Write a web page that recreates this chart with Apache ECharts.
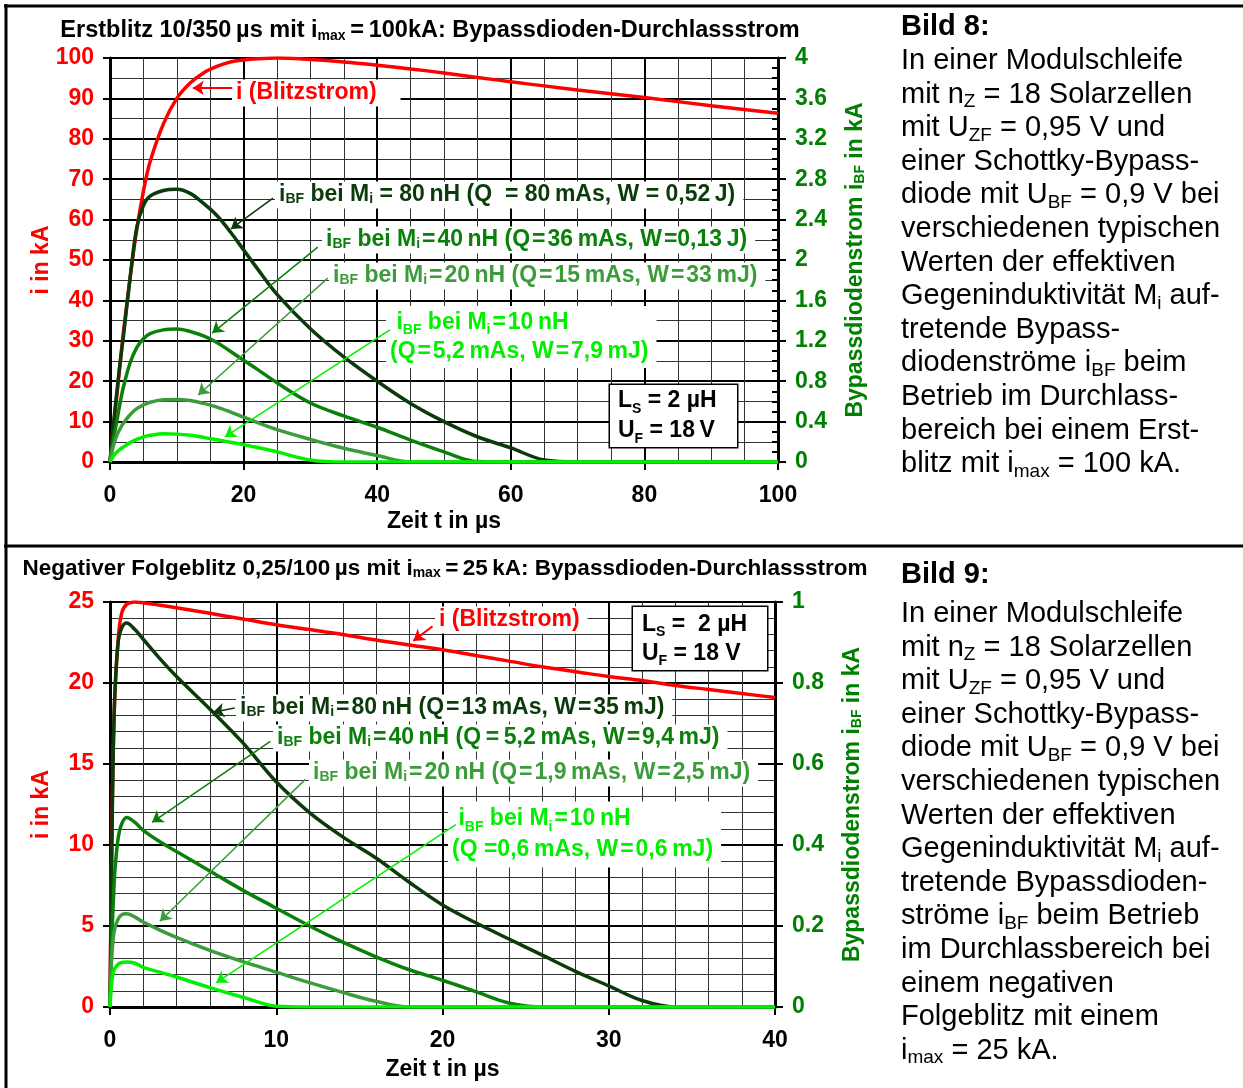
<!DOCTYPE html>
<html>
<head>
<meta charset="utf-8">
<title>Bypassdioden-Durchlassstrom</title>
<script src="https://cdn.jsdelivr.net/npm/echarts@6/dist/echarts.min.js"></script>
<style>
  html, body { margin: 0; padding: 0; background: #fff; }
  #chart { width: 1243px; height: 1088px; }
</style>
</head>
<body>
<div id="chart"></div>
<script>
const FONT = "'Liberation Sans', Arial, Helvetica, sans-serif";
const TS = '\u2009'; // thin space
const HS = '\u200A'; // hair space

// Bild 8: Erstblitz 10/350 µs, Zeit in µs
const timeFirst = [0, 0.5, 1, 1.5, 2, 3, 4, 5, 6, 8, 10, 12, 14, 16, 18, 20, 22, 25, 30, 35, 40, 45, 50, 55, 60, 65, 70, 80, 90, 100];
// Blitzstrom i in kA (linke Achse)
const strokeFirst = [0, 8.5, 16, 24, 32, 45.5, 57.5, 67, 74.3, 83.7, 90, 93.8, 96.3, 97.9, 99, 99.5, 99.8, 100, 99.6, 99.0, 98.2, 97.3, 96.3, 95.2, 94.1, 93.1, 92.1, 90.2, 88.2, 86.3];
// Bypassdiodenstrom iBF in kA (rechte Achse)
const diode80First = [0, 0.36, 0.68, 0.98, 1.24, 1.82, 2.32, 2.54, 2.632, 2.688, 2.70, 2.66, 2.56, 2.44, 2.28, 2.10, 1.92, 1.66, 1.32, 1.04, 0.80, 0.58, 0.40, 0.25, 0.14, 0.02, 0, 0, 0, 0];
const diode40First = [0, 0.22, 0.40, 0.58, 0.74, 0.98, 1.132, 1.22, 1.272, 1.308, 1.316, 1.292, 1.248, 1.184, 1.096, 1.008, 0.92, 0.784, 0.584, 0.456, 0.344, 0.216, 0.10, 0.004, 0, 0, 0, 0, 0, 0];
const diode20First = [0, 0.16, 0.26, 0.328, 0.384, 0.468, 0.528, 0.564, 0.592, 0.616, 0.62, 0.608, 0.58, 0.544, 0.496, 0.444, 0.392, 0.32, 0.224, 0.136, 0.064, 0, 0, 0, 0, 0, 0, 0, 0, 0];
const diode10First = [0, 0.06, 0.096, 0.124, 0.148, 0.192, 0.224, 0.248, 0.264, 0.28, 0.276, 0.264, 0.244, 0.22, 0.196, 0.172, 0.144, 0.10, 0.02, 0, 0, 0, 0, 0, 0, 0, 0, 0, 0, 0];

// Bild 9: negativer Folgeblitz 0,25/100 µs
const timeNext = [0, 0.1, 0.2, 0.3, 0.5, 0.7, 1, 1.5, 2, 3, 4, 6, 8, 10, 12, 14, 16, 18, 20, 22, 24, 26, 28, 30, 32, 34, 36, 38, 40];
const strokeNext = [0, 10, 16, 19.5, 22.8, 24.3, 24.85, 25, 24.95, 24.8, 24.65, 24.3, 23.95, 23.6, 23.3, 23.0, 22.65, 22.35, 22.05, 21.7, 21.35, 21.0, 20.7, 20.4, 20.15, 19.85, 19.6, 19.35, 19.1];
const diode80Next = [0, 0.36, 0.64, 0.78, 0.904, 0.936, 0.948, 0.932, 0.908, 0.86, 0.816, 0.736, 0.652, 0.556, 0.48, 0.42, 0.368, 0.308, 0.252, 0.208, 0.168, 0.128, 0.088, 0.052, 0.016, 0, 0, 0, 0];
const diode40Next = [0, 0.16, 0.26, 0.34, 0.42, 0.452, 0.468, 0.456, 0.436, 0.408, 0.384, 0.336, 0.288, 0.244, 0.20, 0.16, 0.124, 0.092, 0.066, 0.038, 0.01, 0, 0, 0, 0, 0, 0, 0, 0];
const diode20Next = [0, 0.12, 0.172, 0.196, 0.218, 0.228, 0.23, 0.222, 0.21, 0.19, 0.172, 0.14, 0.112, 0.086, 0.06, 0.036, 0.014, 0, 0, 0, 0, 0, 0, 0, 0, 0, 0, 0, 0];
const diode10Next = [0, 0.06, 0.084, 0.096, 0.106, 0.11, 0.111, 0.108, 0.098, 0.086, 0.074, 0.048, 0.024, 0.002, 0, 0, 0, 0, 0, 0, 0, 0, 0, 0, 0, 0, 0, 0, 0];

const RED = '#ff0000';
const C80 = '#0b3a0b';
const C40 = '#0a800a';
const C20 = '#3c9c3c';
const C10 = '#00f000';
const AXIS_GREEN = '#008000';

// main text + subscript styles for rich text
function richStyles(color, size, weight, subSize) {
  const base = { fontFamily: FONT, fontWeight: weight, color: color, fill: color };
  return {
    m: Object.assign({ fontSize: size }, base),
    s: Object.assign({ fontSize: subSize, verticalAlign: 'bottom' }, base)
  };
}

// alternating pieces: normal, subscript, normal, ...
function alt() {
  let out = '';
  for (let k = 0; k < arguments.length; k++) {
    if (arguments[k] === '') continue;
    out += '{' + (k % 2 ? 's' : 'm') + '|' + arguments[k] + '}';
  }
  return out;
}

// narrow "=" and thin space between number and unit, as in the original labels
function tight(s) {
  return s.split(' = ').join(HS + '=' + HS).replace(/(\d) (nH|mAs|mJ|J)/g, '$1' + TS + '$2');
}

function note(x, y, color, text, extra) {
  return {
    type: 'text', x: x, y: y, z: 5, silent: true,
    style: Object.assign({
      text: text, fill: color, fontFamily: FONT, fontWeight: 'bold', fontSize: 23,
      rich: richStyles(color, 23, 'bold', 14),
      align: 'left', verticalAlign: 'middle',
      backgroundColor: '#fff', padding: [2, 8, 2, 4]
    }, extra)
  };
}

function paragraph(x, y, text, size, weight) {
  return {
    type: 'text', x: x, y: y, z: 5, silent: true,
    style: {
      text: text, fill: '#000', fontFamily: FONT, fontWeight: weight, fontSize: size,
      rich: richStyles('#000', size, weight, 19),
      align: 'left', verticalAlign: 'middle', lineHeight: 33.6
    }
  };
}

function rule(x1, y1, x2, y2) {
  return { type: 'line', z: 10, silent: true, shape: { x1: x1, y1: y1, x2: x2, y2: y2 }, style: { stroke: '#000', lineWidth: 3 } };
}

function arrows(list) {
  return {
    silent: true, animation: false, symbol: ['none', 'arrow'], symbolSize: 11,
    label: { show: false }, emphasis: { disabled: true },
    data: list.map(a => [
      { coord: [a[0], a[1]], lineStyle: { color: a[4], width: a[5], type: 'solid' }, itemStyle: { color: a[4] } },
      { coord: [a[2], a[3]], itemStyle: { color: a[4] } }
    ])
  };
}

function curve(name, time, values, color, width, xi, yi, extra) {
  return Object.assign({
    name: name, type: 'line', xAxisIndex: xi, yAxisIndex: yi,
    data: time.map((t, k) => [t, values[k]]),
    showSymbol: false, symbol: 'none', smooth: 0.35,
    lineStyle: { color: color, width: width }, itemStyle: { color: color },
    z: 3, silent: true
  }, extra);
}

const labelFont = { fontFamily: FONT, fontSize: 23, fontWeight: 'bold' };

function xAxis(gi, max, interval, minorSplit, nameGap) {
  return {
    gridIndex: gi, type: 'value', min: 0, max: max, interval: interval,
    name: 'Zeit t in µs', nameLocation: 'middle', nameGap: nameGap,
    nameTextStyle: Object.assign({ color: '#000' }, labelFont),
    axisLine: { onZero: false, lineStyle: { color: '#000', width: 3 } },
    axisTick: { length: 8, lineStyle: { color: '#000', width: 2 } },
    axisLabel: Object.assign({ color: '#000', margin: 22 }, labelFont),
    splitLine: { lineStyle: { color: '#000', width: 2 } },
    minorTick: { show: false, splitNumber: minorSplit },
    minorSplitLine: { show: true, lineStyle: { color: '#333', width: 1 } }
  };
}

function leftAxis(gi, max, interval, minorSplit) {
  return {
    gridIndex: gi, type: 'value', position: 'left', min: 0, max: max, interval: interval,
    name: 'i in kA', nameLocation: 'middle', nameGap: 57, nameRotate: 90, nameMoveOverlap: false,
    nameTextStyle: Object.assign({ color: RED }, labelFont),
    axisLine: { show: true, lineStyle: { color: '#000', width: 3 } },
    axisTick: { show: true, length: 7, lineStyle: { color: '#000', width: 2 } },
    axisLabel: Object.assign({ color: RED, margin: 16 }, labelFont),
    splitLine: { lineStyle: { color: '#000', width: 2 } },
    minorTick: { show: false, splitNumber: minorSplit },
    minorSplitLine: { show: true, lineStyle: { color: '#333', width: 1 } }
  };
}

function rightAxis(gi, max, interval) {
  return {
    gridIndex: gi, type: 'value', position: 'right', min: 0, max: max, interval: interval,
    name: alt('Bypassdiodenstrom i', 'BF', ' in kA'), nameLocation: 'middle', nameGap: 66, nameRotate: 90,
    nameTextStyle: Object.assign({ color: AXIS_GREEN, rich: richStyles(AXIS_GREEN, 23, 'bold', 14) }, labelFont),
    axisLine: { show: true, lineStyle: { color: '#000', width: 3 } },
    axisTick: { show: true, length: 8, lineStyle: { color: '#000', width: 2 } },
    axisLabel: Object.assign({ color: AXIS_GREEN, margin: 17 }, labelFont),
    splitLine: { show: false }
  };
}

// short inside ticks on the right-hand axis
function innerTicks(gi, max, interval) {
  return {
    gridIndex: gi, type: 'value', position: 'right', offset: 0, min: 0, max: max, interval: interval,
    axisLine: { show: false },
    axisTick: { show: true, inside: true, length: 6, lineStyle: { color: '#000', width: 2 } },
    axisLabel: { show: false },
    splitLine: { show: false }
  };
}

const arrowsFirst = [
  // from t, from i, to t, to i (left axis units), colour, width
  [18.3, 92.6, 12.4, 92.6, RED, 2],
  [24.4, 65.3, 18.1, 57.7, C80, 1.5],
  [31.1, 53.2, 15.3, 31.9, C40, 1.5],
  [32.6, 45.5, 13.2, 16.6, C20, 1.5],
  [41.9, 32.7, 17.2, 6.2, C10, 1.5]
];
const arrowsNext = [
  [19.4, 23.5, 18.25, 22.6, RED, 2],
  [7.5, 18.45, 6.2, 18.2, C80, 1.5],
  [9.64, 16.4, 2.53, 11.4, C40, 1.5],
  [11.75, 14.05, 3.0, 5.29, C20, 1.5],
  [20.8, 11.26, 6.39, 1.5, C10, 1.5]
];

const chart = echarts.init(document.getElementById('chart'), null, { renderer: 'canvas' });

const option = {
  animation: false,
  backgroundColor: '#fff',
  grid: [
    { left: 110, top: 58, width: 668, height: 404 },
    { left: 110, top: 602, width: 665, height: 405 }
  ],
  xAxis: [
    xAxis(0, 100, 20, 4, 48),
    xAxis(1, 40, 10, 5, 51)
  ],
  yAxis: [
    leftAxis(0, 100, 10, 2),
    rightAxis(0, 4, 0.4),
    leftAxis(1, 25, 5, 5),
    rightAxis(1, 1, 0.2),
    innerTicks(0, 4, 0.1)
  ],
  series: [
    curve('i (Blitzstrom)', timeFirst, strokeFirst, RED, 3.5, 0, 0, { markLine: arrows(arrowsFirst) }),
    curve('80 nH', timeFirst, diode80First, C80, 3.5, 0, 1),
    curve('40 nH', timeFirst, diode40First, C40, 3.5, 0, 1),
    curve('20 nH', timeFirst, diode20First, C20, 3.5, 0, 1),
    curve('10 nH', timeFirst, diode10First, C10, 3.5, 0, 1),
    curve('i (Blitzstrom)', timeNext, strokeNext, RED, 3.5, 1, 2, { markLine: arrows(arrowsNext) }),
    curve('80 nH', timeNext, diode80Next, C80, 3.5, 1, 3),
    curve('40 nH', timeNext, diode40Next, C40, 3.5, 1, 3),
    curve('20 nH', timeNext, diode20Next, C20, 3.5, 1, 3),
    curve('10 nH', timeNext, diode10Next, C10, 3.5, 1, 3)
  ],
  graphic: [
    rule(4, 6, 1243, 6),
    rule(6, 4, 6, 1088),
    rule(4, 546, 1243, 546),
    // titles
    {
      type: 'text', x: 430, y: 31, z: 5, silent: true,
      style: {
        text: alt('Erstblitz 10/350' + TS + 'µs mit i', 'max', TS + '=' + TS + '100kA: Bypassdioden-Durchlassstrom'),
        fill: '#000', fontFamily: FONT, fontWeight: 'bold', fontSize: 23.5,
        rich: richStyles('#000', 23.5, 'bold', 14), align: 'center', verticalAlign: 'middle'
      }
    },
    {
      type: 'text', x: 445, y: 569, z: 5, silent: true,
      style: {
        text: alt('Negativer Folgeblitz 0,25/100' + TS + 'µs mit i', 'max', TS + '=' + TS + '25' + TS + 'kA: Bypassdioden-Durchlassstrom'),
        fill: '#000', fontFamily: FONT, fontWeight: 'bold', fontSize: 22.5,
        rich: richStyles('#000', 22.5, 'bold', 14), align: 'center', verticalAlign: 'middle'
      }
    },
    // annotations, Bild 8
    note(232, 93, RED, alt('i (Blitzstrom)'), { padding: [2, 24, 2, 4] }),
    note(275, 195, C80, alt('i', 'BF', ' bei M', 'i', ' = 80' + TS + 'nH (Q  = 80' + TS + 'mAs, W = 0,52' + TS + 'J)')),
    note(322, 240, C40, alt('i', 'BF', ' bei M', 'i', tight(' = 40 nH (Q = 36 mAs,') + ' W' + HS + '=' + tight('0,13 J)'))),
    note(329, 276, C20, alt('i', 'BF', ' bei M', 'i', tight(' = 20 nH (Q = 15 mAs, W = 33 mJ)'))),
    note(386, 337, C10, alt(' i', 'BF', ' bei M', 'i', tight(' = 10 nH')) + '\n' + alt(tight('(Q = 5,2 mAs, W = 7,9 mJ)')), { lineHeight: 29 }),
    {
      type: 'text', x: 610, y: 385, z: 5, silent: true,
      style: {
        text: alt('L', 'S', ' = 2 µH') + '\n' + alt('U', 'F', ' = 18' + TS + 'V'),
        fill: '#000', fontFamily: FONT, fontWeight: 'bold', fontSize: 23,
        rich: richStyles('#000', 23, 'bold', 14), align: 'left', verticalAlign: 'top',
        lineHeight: 30, padding: [1, 10, 1, 8], width: 109,
        backgroundColor: '#fff', borderColor: '#000', borderWidth: 1.5
      }
    },
    // annotations, Bild 9
    note(435, 620, RED, alt('i (Blitzstrom)')),
    note(236, 708, C80, alt('i', 'BF', ' bei M', 'i', tight(' = 80 nH (Q = 13 mAs, W = 35 mJ)'))),
    note(273, 738, C40, alt('i', 'BF', ' bei M', 'i', tight(' = 40 nH') + ' (Q' + TS + '=' + TS + '5,2' + TS + 'mAs, ' + tight('W = 9,4 mJ)'))),
    note(309, 773, C20, alt('i', 'BF', ' bei M', 'i', tight(' = 20 nH (Q = 1,9 mAs, W = 2,5 mJ)'))),
    note(448, 834.5, C10, alt(' i', 'BF', ' bei M', 'i', tight(' = 10 nH')) + '\n' + alt('(Q ' + tight('=0,6 mAs, W = 0,6 mJ)')), { lineHeight: 31 }),
    {
      type: 'text', x: 633, y: 607, z: 5, silent: true,
      style: {
        text: alt('L', 'S', ' =  2 µH') + '\n' + alt('U', 'F', ' = 18 V'),
        fill: '#000', fontFamily: FONT, fontWeight: 'bold', fontSize: 23,
        rich: richStyles('#000', 23, 'bold', 14), align: 'left', verticalAlign: 'top',
        lineHeight: 29, padding: [3, 10, 2, 9], width: 115,
        backgroundColor: '#fff', borderColor: '#000', borderWidth: 1.5
      }
    },
    // captions on the right
    paragraph(901, 27, alt('Bild 8:'), 29, 'bold'),
    paragraph(901, 262.6, [
      alt('In einer Modulschleife'),
      alt('mit n', 'Z', ' = 18 Solarzellen'),
      alt('mit U', 'ZF', ' = 0,95 V und'),
      alt('einer Schottky-Bypass-'),
      alt('diode mit U', 'BF', ' = 0,9 V bei'),
      alt('verschiedenen typischen'),
      alt('Werten der effektiven'),
      alt('Gegeninduktivität M', 'i', ' auf-'),
      alt('tretende Bypass-'),
      alt('diodenströme i', 'BF', ' beim'),
      alt('Betrieb im Durchlass-'),
      alt('bereich bei einem Erst-'),
      alt('blitz mit i', 'max', ' = 100 kA.')
    ].join('\n'), 29, 'normal'),
    paragraph(901, 575, alt('Bild 9:'), 29, 'bold'),
    paragraph(901, 832.4, [
      alt('In einer Modulschleife'),
      alt('mit n', 'Z', ' = 18 Solarzellen'),
      alt('mit U', 'ZF', ' = 0,95 V und'),
      alt('einer Schottky-Bypass-'),
      alt('diode mit U', 'BF', ' = 0,9 V bei'),
      alt('verschiedenen typischen'),
      alt('Werten der effektiven'),
      alt('Gegeninduktivität M', 'i', ' auf-'),
      alt('tretende Bypassdioden-'),
      alt('ströme i', 'BF', ' beim Betrieb'),
      alt('im Durchlassbereich bei'),
      alt('einem negativen'),
      alt('Folgeblitz mit einem'),
      alt('i', 'max', ' = 25 kA.')
    ].join('\n'), 29, 'normal')
  ]
};

chart.setOption(option);
</script>
</body>
</html>
